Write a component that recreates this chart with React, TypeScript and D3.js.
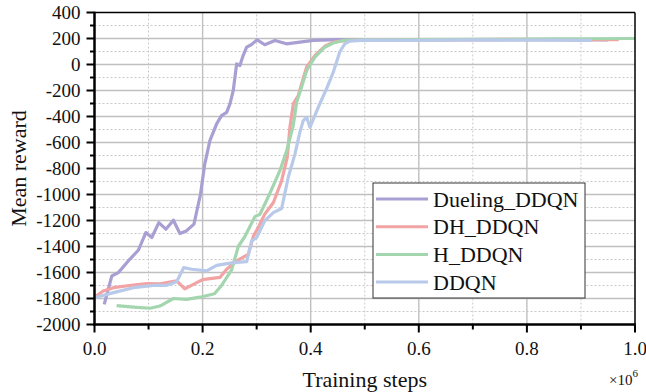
import React from "react";
import * as d3 from "d3";

// training steps in units of 1e6, mean reward
const duelingX = [0.018, 0.032, 0.044, 0.0625, 0.081, 0.095, 0.106, 0.119, 0.132, 0.146, 0.158, 0.17, 0.184, 0.196, 0.204, 0.2135, 0.226, 0.235, 0.2445, 0.2506, 0.2567, 0.263, 0.269, 0.275, 0.2815, 0.29, 0.301, 0.315, 0.334, 0.355, 0.38, 0.405, 0.45, 0.55, 0.65, 0.75, 0.85, 0.95];
const duelingY = [-1845, -1627, -1601, -1511, -1429, -1293, -1331, -1216, -1267, -1198, -1300, -1280, -1228, -1000, -766, -586, -457, -393, -368, -303, -200, 5, -8, 69, 133, 152, 190, 152, 185, 159, 172, 185, 192, 190, 192, 190, 193, 190];

const dhX = [0, 0.016, 0.035, 0.072, 0.097, 0.121, 0.152, 0.167, 0.183, 0.2, 0.232, 0.2445, 0.263, 0.2845, 0.294, 0.303, 0.315, 0.331, 0.3462, 0.3566, 0.3616, 0.368, 0.377, 0.386, 0.3925, 0.408, 0.426, 0.442, 0.47, 0.55, 0.65, 0.75, 0.85, 0.97];
const dhY = [-1790, -1742, -1717, -1696, -1686, -1688, -1665, -1725, -1691, -1655, -1638, -1575, -1510, -1460, -1320, -1254, -1151, -1062, -894, -715, -480, -300, -240, -110, -20, 70, 140, 172, 188, 192, 190, 193, 191, 192];

const hX = [0.041, 0.072, 0.103, 0.121, 0.146, 0.17, 0.195, 0.222, 0.235, 0.2537, 0.266, 0.278, 0.2968, 0.3061, 0.3246, 0.343, 0.3555, 0.3677, 0.374, 0.383, 0.3925, 0.4078, 0.426, 0.4417, 0.46, 0.5, 0.6, 0.7, 0.8, 0.9, 1.0];
const hY = [-1855, -1866, -1875, -1858, -1800, -1807, -1790, -1763, -1700, -1580, -1400, -1325, -1170, -1152, -990, -817, -663, -470, -290, -175, -46, 56, 133, 165, 185, 190, 192, 193, 195, 198, 200];

const ddqnX = [0, 0.035, 0.072, 0.109, 0.1335, 0.152, 0.165, 0.18, 0.2075, 0.226, 0.2567, 0.2815, 0.2907, 0.3, 0.315, 0.3307, 0.3462, 0.3584, 0.3708, 0.38, 0.3862, 0.3925, 0.3986, 0.414, 0.43, 0.4417, 0.4541, 0.4633, 0.4726, 0.5, 0.6, 0.7, 0.8, 0.92];
const ddqnY = [-1794, -1755, -1717, -1699, -1699, -1671, -1563, -1575, -1588, -1545, -1524, -1517, -1357, -1331, -1203, -1139, -1108, -869, -689, -520, -432, -406, -483, -329, -180, -60, 100, 160, 180, 188, 186, 190, 187, 185];

const seriesNames = ["Dueling_DDQN", "DH_DDQN", "H_DDQN", "DDQN"];
const seriesColors = ["#a99fd3", "#f2a3a3", "#a3d6ae", "#b8c9e9"];
const seriesX = [duelingX, dhX, hX, ddqnX];
const seriesY = [duelingY, dhY, hY, ddqnY];

const xTicks = [0, 0.2, 0.4, 0.6, 0.8, 1.0];
const xMinor = [0.1, 0.3, 0.5, 0.7, 0.9];
const yTicks = d3.range(-2000, 401, 200);
const yMinor = d3.range(-1900, 400, 200);

const W = 646;
const H = 392;
const m = { left: 94.5, right: 11, top: 12.5, bottom: 67.5 };
const font = "'Liberation Serif', 'Times New Roman', serif";

export default function App() {
  const x = d3.scaleLinear().domain([0, 1]).range([m.left, W - m.right]);
  const y = d3.scaleLinear().domain([-2000, 400]).range([H - m.bottom, m.top]);
  const line = d3.line<[number, number]>().x(d => x(d[0])).y(d => y(d[1]));
  const x0 = x(0), x1 = x(1), y0 = y(-2000), y1 = y(400);

  return (
    <div style={{ position: "absolute", left: 0, top: 0 }}>
      <svg width={W} height={H} style={{ display: "block", background: "#fff" }}>
        {/* grid */}
        {yMinor.map(v => (
          <line key={"ym" + v} x1={x0} x2={x1} y1={y(v)} y2={y(v)} stroke="#c8c8c8" strokeWidth={1} strokeDasharray="2,2" />
        ))}
        {xMinor.map(v => (
          <line key={"xm" + v} x1={x(v)} x2={x(v)} y1={y0} y2={y1} stroke="#c8c8c8" strokeWidth={1} strokeDasharray="2,2" />
        ))}
        {yTicks.slice(1, -1).map(v => (
          <line key={"yg" + v} x1={x0} x2={x1} y1={y(v)} y2={y(v)} stroke="#c0c0c0" strokeWidth={1.4} />
        ))}
        {xTicks.slice(1, -1).map(v => (
          <line key={"xg" + v} x1={x(v)} x2={x(v)} y1={y0} y2={y1} stroke="#c0c0c0" strokeWidth={1.4} />
        ))}

        {/* series */}
        {seriesX.map((xs, i) => (
          <path key={seriesNames[i]} d={line(xs.map((v, j) => [v, seriesY[i][j]] as [number, number])) || ""}
            fill="none" stroke={seriesColors[i]} strokeWidth={3.2} strokeLinejoin="round" />
        ))}

        {/* frame */}
        <line x1={x0} x2={x1} y1={y1} y2={y1} stroke="#000" strokeWidth={1.5} />
        <line x1={x1} x2={x1} y1={y1} y2={y0} stroke="#000" strokeWidth={1.5} />
        <line x1={x0} x2={x0} y1={y1 - 0.75} y2={y0 + 1.25} stroke="#000" strokeWidth={2.5} />
        <line x1={x0 - 1.25} x2={x1 + 0.75} y1={y0} y2={y0} stroke="#000" strokeWidth={2.5} />

        {/* y ticks */}
        {yTicks.map(v => (
          <g key={"yt" + v}>
            <line x1={x0 - 8} x2={x0} y1={y(v)} y2={y(v)} stroke="#000" strokeWidth={2} />
            <text x={x0 - 14} y={y(v)} dy="0.35em" textAnchor="end" fontFamily={font} fontSize={19} fill="#111">{v}</text>
          </g>
        ))}
        {yMinor.map(v => (
          <line key={"ymt" + v} x1={x0 - 4.5} x2={x0} y1={y(v)} y2={y(v)} stroke="#000" strokeWidth={2} />
        ))}

        {/* x ticks */}
        {xTicks.map(v => (
          <g key={"xt" + v}>
            <line x1={x(v)} x2={x(v)} y1={y0} y2={y0 + 8} stroke="#000" strokeWidth={2} />
            <text x={x(v)} y={y0 + 30} textAnchor="middle" fontFamily={font} fontSize={19} fill="#111">{v.toFixed(1)}</text>
          </g>
        ))}
        {xMinor.map(v => (
          <line key={"xmt" + v} x1={x(v)} x2={x(v)} y1={y0} y2={y0 + 5} stroke="#000" strokeWidth={2} />
        ))}

        {/* axis titles */}
        <text x={(x0 + x1) / 2} y={387} textAnchor="middle" fontFamily={font} fontSize={22} fill="#111">Training steps</text>
        <text transform={`translate(26,${(y0 + y1) / 2}) rotate(-90)`} textAnchor="middle" fontFamily={font} fontSize={22} fill="#111">Mean reward</text>
        <text x={609} y={385} fontFamily={font} fontSize={15} fill="#111">×10<tspan dy={-8} fontSize={11}>6</tspan></text>

        {/* legend */}
        <rect x={373} y={183} width={212} height={115} fill="#fff" stroke="#333" strokeWidth={1} />
        {seriesNames.map((name, i) => {
          const ly = 199 + i * 27.7;
          return (
            <g key={"lg" + name}>
              <line x1={376} x2={428} y1={ly} y2={ly} stroke={seriesColors[i]} strokeWidth={3} />
              <text x={433} y={ly} dy="0.35em" fontFamily={font} fontSize={22} fill="#111">{name}</text>
            </g>
          );
        })}
      </svg>
    </div>
  );
}
